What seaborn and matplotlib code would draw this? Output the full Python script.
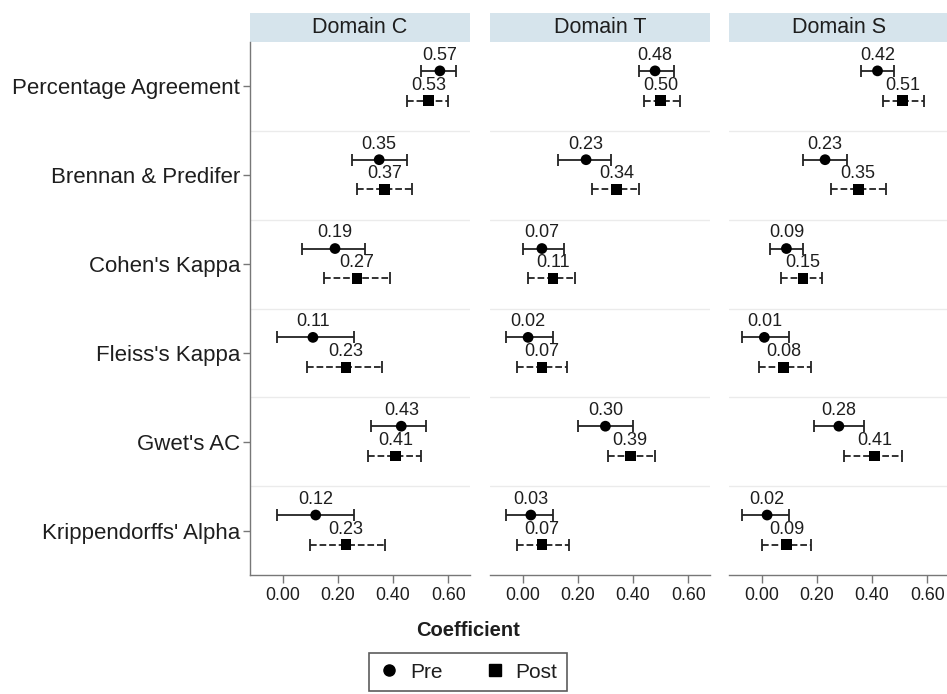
import matplotlib
matplotlib.use("Agg")
import matplotlib.pyplot as plt
from matplotlib.patches import Rectangle
from matplotlib.lines import Line2D
import numpy as np
import pandas as pd
import seaborn as sns

# ---- data -------------------------------------------------------------
measures = ["Percentage Agreement", "Brennan & Predifer", "Cohen's Kappa",
            "Fleiss's Kappa", "Gwet's AC", "Krippendorffs' Alpha"]
domains = ["Domain C", "Domain T", "Domain S"]

# point estimates (rows follow `measures`)
pre_c = [0.57, 0.35, 0.19, 0.11, 0.43, 0.12]
post_c = [0.53, 0.37, 0.27, 0.23, 0.41, 0.23]
pre_t = [0.48, 0.23, 0.07, 0.02, 0.30, 0.03]
post_t = [0.50, 0.34, 0.11, 0.07, 0.39, 0.07]
pre_s = [0.42, 0.23, 0.09, 0.01, 0.28, 0.02]
post_s = [0.51, 0.35, 0.15, 0.08, 0.41, 0.09]

# 95% confidence limits
pre_c_lo = [0.50, 0.25, 0.07, -0.02, 0.32, -0.02]
pre_c_hi = [0.63, 0.45, 0.30, 0.26, 0.52, 0.26]
post_c_lo = [0.45, 0.27, 0.15, 0.09, 0.31, 0.10]
post_c_hi = [0.60, 0.47, 0.39, 0.36, 0.50, 0.37]
pre_t_lo = [0.42, 0.13, 0.00, -0.06, 0.20, -0.06]
pre_t_hi = [0.55, 0.32, 0.15, 0.11, 0.40, 0.11]
post_t_lo = [0.44, 0.25, 0.02, -0.02, 0.31, -0.02]
post_t_hi = [0.57, 0.42, 0.19, 0.16, 0.48, 0.17]
pre_s_lo = [0.36, 0.15, 0.03, -0.07, 0.19, -0.07]
pre_s_hi = [0.48, 0.31, 0.15, 0.10, 0.37, 0.10]
post_s_lo = [0.44, 0.25, 0.07, -0.01, 0.30, 0.00]
post_s_hi = [0.59, 0.45, 0.22, 0.18, 0.51, 0.18]

x_ticks = [0.0, 0.2, 0.4, 0.6]

# ---- tidy table ----------------------------------------------------------
series = {
    ("Domain C", "Pre"): (pre_c, pre_c_lo, pre_c_hi),
    ("Domain C", "Post"): (post_c, post_c_lo, post_c_hi),
    ("Domain T", "Pre"): (pre_t, pre_t_lo, pre_t_hi),
    ("Domain T", "Post"): (post_t, post_t_lo, post_t_hi),
    ("Domain S", "Pre"): (pre_s, pre_s_lo, pre_s_hi),
    ("Domain S", "Post"): (post_s, post_s_lo, post_s_hi),
}
rows = []
for (dom, time), (est, lo, hi) in series.items():
    for i, m in enumerate(measures):
        rows.append(dict(domain=dom, time=time, measure=m, idx=i,
                         est=est[i], lo=lo[i], hi=hi[i]))
df = pd.DataFrame(rows)
offset = {"Pre": -0.175, "Post": 0.16}
df["ypos"] = df["idx"] + df["time"].map(offset)

# ---- styling ---------------------------------------------------------------
sns.set_theme(style="white")
plt.rcParams["font.family"] = ["Liberation Sans", "DejaVu Sans"]

W, H = 947, 694
fig = plt.figure(figsize=(W / 100, H / 100), dpi=100)

TXT = "#1e1e1e"
panel_left = [250, 490, 729]
panel_w = 220
top_px, bottom_px = 42, 575
strip_px = 29
for k, dom in enumerate(domains):
    ax = fig.add_axes([panel_left[k] / W, 1 - bottom_px / H,
                       panel_w / W, (bottom_px - top_px) / H])
    sub = df[df["domain"] == dom]

    # row separators
    for b in np.arange(0.5, len(measures) - 1, 1.0):
        ax.axhline(b, color="#ebebeb", lw=1.0, zorder=0)

    for time, ls in [("Pre", "-"), ("Post", "--")]:
        s = sub[sub["time"] == time]
        eb = ax.errorbar(s["est"], s["ypos"],
                         xerr=[s["est"] - s["lo"], s["hi"] - s["est"]],
                         fmt="none", ecolor="#222222", elinewidth=1.3,
                         capsize=4, capthick=1.3, zorder=2)
        for lc in eb[2]:
            lc.set_linestyle(ls)
        for xv, yv in zip(s["est"], s["ypos"]):
            ax.text(xv, yv - 0.175, f"{xv:.2f}", ha="center", va="center",
                    fontsize=13, color=TXT, zorder=4)

    sns.scatterplot(data=sub, x="est", y="ypos", style="time",
                    markers={"Pre": "o", "Post": "s"},
                    style_order=["Pre", "Post"], color="black",
                    s=60, edgecolor="black", linewidth=0, ax=ax,
                    legend=False, zorder=3)

    ax.set_xlim(-0.118, 0.679)
    ax.set_ylim(len(measures) - 0.5, -0.5)
    ax.set_xticks(x_ticks)
    ax.set_xticklabels([f"{v:.2f}" for v in x_ticks], fontsize=12.8,
                       color=TXT)
    ax.set_xlabel("")
    ax.set_ylabel("")
    ax.tick_params(axis="x", length=6, width=1, color="#777777",
                   bottom=True, pad=3)
    for side in ["top", "right"]:
        ax.spines[side].set_visible(False)
    ax.spines["bottom"].set_color("#777777")
    ax.spines["bottom"].set_linewidth(1.0)
    ax.set_yticks(range(len(measures)))
    if k == 0:
        ax.set_yticklabels(measures, fontsize=16, color=TXT)
        ax.tick_params(axis="y", length=5, width=1, color="#777777",
                       left=True, pad=2)
        ax.spines["left"].set_color("#777777")
        ax.spines["left"].set_linewidth(1.0)
    else:
        ax.set_yticklabels([])
        ax.tick_params(axis="y", length=0, left=False)
        ax.spines["left"].set_visible(False)

    # facet strip
    h_frac = strip_px / (bottom_px - top_px)
    ax.add_patch(Rectangle((0, 1.0), 1, h_frac, transform=ax.transAxes,
                           facecolor="#d6e4ec", edgecolor="none",
                           clip_on=False))
    ax.text(0.5, 1 + h_frac / 2, dom, transform=ax.transAxes, ha="center",
            va="center", fontsize=15.5, color=TXT)

fig.text(468 / W, 1 - 631 / H, "Coefficient", ha="center", va="center",
         fontsize=14.5, fontweight="bold", color=TXT)

handles = [Line2D([], [], marker="o", ls="none", color="black", ms=8),
           Line2D([], [], marker="s", ls="none", color="black", ms=8)]
leg = fig.legend(handles, ["Pre", "Post"], loc="center",
                 bbox_to_anchor=(468 / W, 1 - 672 / H), ncol=2, frameon=True,
                 fontsize=15, handletextpad=0.5, columnspacing=2.0,
                 borderpad=0.45, fancybox=False, handlelength=1.0)
leg.get_frame().set_edgecolor("#333333")
leg.get_frame().set_linewidth(1.2)
for t in leg.get_texts():
    t.set_color(TXT)

fig.savefig("out.png", dpi=100, facecolor="white")
